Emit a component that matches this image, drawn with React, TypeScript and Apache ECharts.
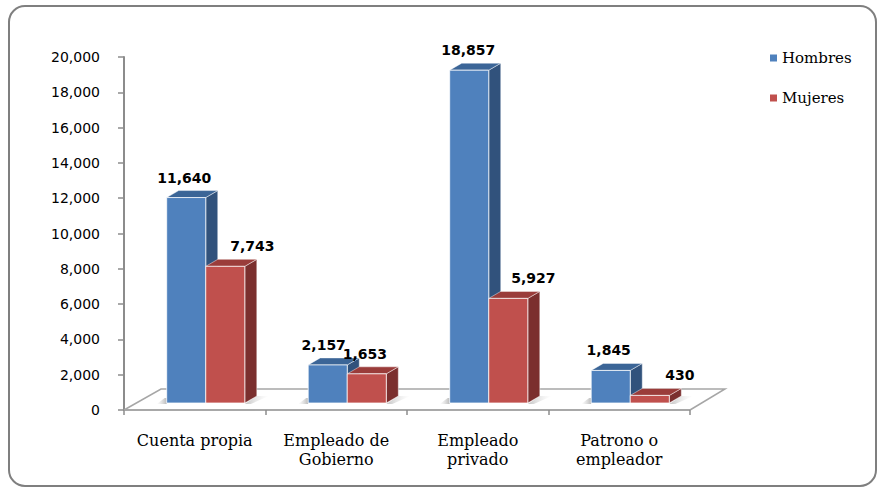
import { useEffect, useRef } from "react";
import * as echarts from "echarts";

const categories = [
  "Cuenta propia",
  "Empleado de\nGobierno",
  "Empleado\nprivado",
  "Patrono o\nempleador",
];
const seriesNames = ["Hombres", "Mujeres"];
const hombres = [11640, 2157, 18857, 1845];
const mujeres = [7743, 1653, 5927, 430];
const yMin = 0;
const yMax = 20000;
const yInterval = 2000;

// label horizontal nudges (style only)
const labelNudge = [
  [-2, -4, -1, -2],
  [27, -2, 25, 30],
];

const palettes = [
  { front: "#4F81BD", top: "#3B6597", side: "#31527C" },
  { front: "#C0504D", top: "#9A3C3A", side: "#7B2F2E" },
];

function fmt(v: number) {
  return v.toLocaleString("en-US");
}

function makeBarRender(side: number) {
  const pal = palettes[side];
  return (params: any, api: any) => {
    const i = api.value(0);
    const v = api.value(1);
    const base = api.coord([i, 0]);
    const top = api.coord([i, v]);
    const band = api.size([1, 0])[0];
    const w = band * 0.276;
    const ox = 11;
    const oy = -7;
    const dx = 12;
    const dy = -7;
    const x0 = base[0] + (side === 0 ? -w : 0) + ox;
    const x1 = x0 + w;
    const yb = base[1] + oy;
    const yt = top[1] + oy;
    const children: any[] = [];
    if (side === 0) {
      children.push({
        type: "polygon",
        shape: {
          points: [
            [x0 - 10, yb + 1],
            [x0 - 2, yb - 5],
            [x0, yb - 5],
            [x0, yb + 1],
          ],
        },
        style: {
          fill: new echarts.graphic.LinearGradient(0, 0, 1, 0, [
            { offset: 0, color: "rgba(200,200,200,0)" },
            { offset: 1, color: "rgba(170,170,170,0.8)" },
          ]),
        },
      });
    } else {
      children.push({
        type: "polygon",
        shape: {
          points: [
            [x1, yb + 1],
            [x1 + dx, yb + dy],
            [x1 + dx + 12, yb + dy],
            [x1 + 6, yb + 1],
          ],
        },
        style: {
          fill: new echarts.graphic.LinearGradient(0, 0, 1, 0, [
            { offset: 0, color: "rgba(170,170,170,0.7)" },
            { offset: 1, color: "rgba(220,220,220,0)" },
          ]),
        },
      });
    }
    children.push(
      {
        type: "polygon",
        shape: {
          points: [
            [x1, yt],
            [x1 + dx, yt + dy],
            [x1 + dx, yb + dy],
            [x1, yb],
          ],
        },
        style: { fill: pal.side, stroke: "rgba(255,255,255,0.55)", lineWidth: 0.8 },
      },
      {
        type: "polygon",
        shape: {
          points: [
            [x0, yt],
            [x0 + dx, yt + dy],
            [x1 + dx, yt + dy],
            [x1, yt],
          ],
        },
        style: { fill: pal.top, stroke: "rgba(255,255,255,0.55)", lineWidth: 0.8 },
      },
      {
        type: "rect",
        shape: { x: x0, y: yt, width: w, height: yb - yt },
        style: { fill: pal.front, stroke: "rgba(255,255,255,0.75)", lineWidth: 1 },
      },
      {
        type: "text",
        x: (x0 + x1) / 2 + labelNudge[side][i],
        y: yt - 20,
        style: {
          text: fmt(v),
          align: "center",
          verticalAlign: "middle",
          font: 'bold 14px "DejaVu Sans"',
          fill: "#000",
        },
      }
    );
    return { type: "group", children };
  };
}

function floorRender(params: any, api: any) {
  const cs = params.coordSys;
  const yf = cs.y + cs.height;
  const xl = cs.x;
  const xr = cs.x + cs.width;
  const bdx = 37;
  const bdy = -21;
  return {
    type: "polyline",
    shape: {
      points: [
        [xl, yf],
        [xl + bdx, yf + bdy],
        [xr + bdx - 2, yf + bdy],
        [xr, yf],
      ],
    },
    style: { fill: "none", stroke: "#A6A6A6", lineWidth: 1.5 },
  };
}

export default function App() {
  const ref = useRef<HTMLDivElement>(null);
  useEffect(() => {
    document.body.style.margin = "0";
    const chart = echarts.init(ref.current!, null, { renderer: "svg" });
    chart.setOption({
      animation: false,
      backgroundColor: "#fff",
      grid: { left: 124, top: 57, right: 187, bottom: 79 },
      legend: {
        data: seriesNames,
        orient: "vertical",
        left: 765,
        top: 45,
        itemWidth: 7,
        itemHeight: 7,
        itemGap: 24,
        icon: "rect",
        textStyle: {
          fontFamily: "DejaVu Serif",
          fontSize: 15,
          lineHeight: 16,
          color: "#000",
        },
      },
      xAxis: {
        type: "category",
        data: categories,
        axisLine: { lineStyle: { color: "#8C8C8C", width: 1.5 } },
        axisTick: { show: true, length: 5, lineStyle: { color: "#8C8C8C", width: 1.5 } },
        axisLabel: {
          interval: 0,
          margin: 21,
          fontFamily: "DejaVu Serif",
          fontSize: 16,
          lineHeight: 19,
          color: "#000",
        },
        splitLine: { show: false },
      },
      yAxis: {
        type: "value",
        min: yMin,
        max: yMax,
        interval: yInterval,
        axisLine: { show: true, lineStyle: { color: "#8C8C8C", width: 2 } },
        axisTick: { show: true, length: 6, lineStyle: { color: "#8C8C8C", width: 1.5 } },
        axisLabel: {
          margin: 24,
          fontFamily: "DejaVu Sans",
          fontSize: 14,
          color: "#000",
          formatter: (v: number) => fmt(v),
        },
        splitLine: { show: false },
      },
      graphic: [
        {
          type: "rect",
          z: -10,
          shape: { x: 9, y: 6, width: 867, height: 480, r: 16 },
          style: { fill: "none", stroke: "#7F7F7F", lineWidth: 2 },
        },
      ],
      series: [
        {
          type: "custom",
          name: "floor",
          z: 1,
          silent: true,
          renderItem: floorRender,
          data: [[0, 0]],
          encode: { x: 0, y: 1 },
        },
        {
          type: "custom",
          name: seriesNames[0],
          z: 2,
          itemStyle: { color: palettes[0].front },
          renderItem: makeBarRender(0),
          data: hombres.map((v, i) => [i, v]),
          encode: { x: 0, y: 1 },
        },
        {
          type: "custom",
          name: seriesNames[1],
          z: 3,
          itemStyle: { color: palettes[1].front },
          renderItem: makeBarRender(1),
          data: mujeres.map((v, i) => [i, v]),
          encode: { x: 0, y: 1 },
        },
      ],
    });
    return () => chart.dispose();
  }, []);
  return <div ref={ref} style={{ width: 877, height: 489 }} />;
}
